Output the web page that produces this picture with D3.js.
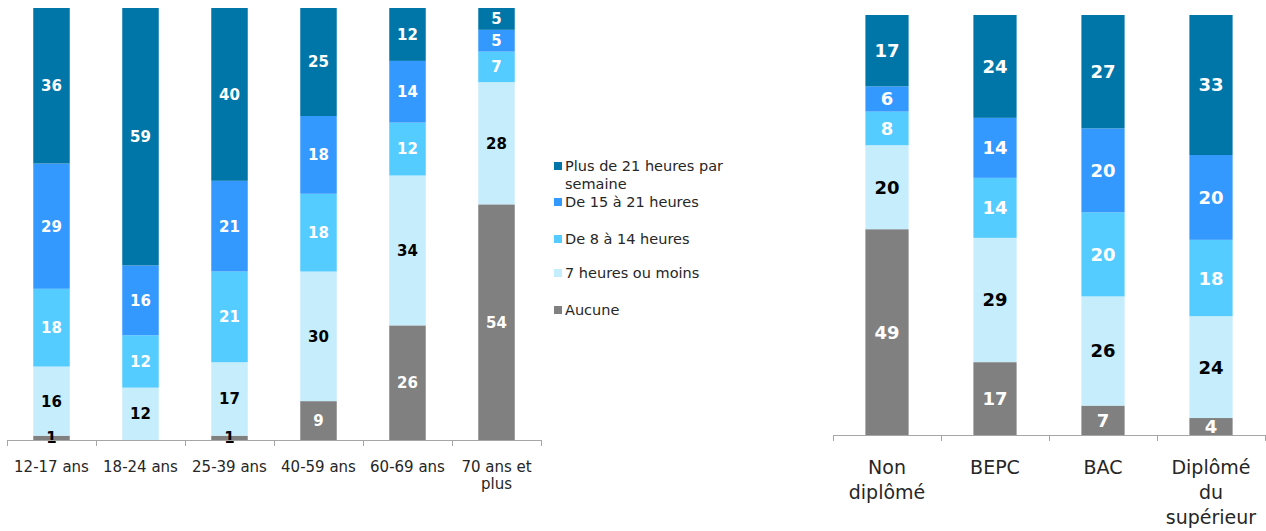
<!DOCTYPE html>
<html><head><meta charset="utf-8">
<script src="https://cdn.jsdelivr.net/npm/d3@7"></script>
<style>body{margin:0;background:#fff}svg{display:block}</style>
</head><body>
<svg id="c" width="1266" height="531"></svg>
<script>
const seriesNames = ["Aucune","7 heures ou moins","De 8 à 14 heures","De 15 à 21 heures","Plus de 21 heures par semaine"];
const seriesKeys = ["aucune","h7","h8_14","h15_21","h21"];
const colors = ["#808080","#C6EDFC","#55CCFF","#3399FF","#0076A8"];
const labelColors = ["#fff","#000","#fff","#fff","#fff"];

const ageCategories = ["12-17 ans","18-24 ans","25-39 ans","40-59 ans","60-69 ans","70 ans et plus"];
const ageAucune = [1,0,1,9,26,54];
const ageH7 = [16,12,17,30,34,28];
const ageH8_14 = [18,12,21,18,12,7];
const ageH15_21 = [29,16,21,18,14,5];
const ageH21 = [36,59,40,25,12,5];

const eduCategories = ["Non diplômé","BEPC","BAC","Diplômé du supérieur"];
const eduAucune = [49,17,7,4];
const eduH7 = [20,29,26,24];
const eduH8_14 = [8,14,20,18];
const eduH15_21 = [6,14,20,20];
const eduH21 = [17,24,27,33];

const ageLabelLines = [["12-17 ans"],["18-24 ans"],["25-39 ans"],["40-59 ans"],["60-69 ans"],["70 ans et","plus"]];
const eduLabelLines = [["Non","diplômé"],["BEPC"],["BAC"],["Diplômé","du","supérieur"]];

const svg = d3.select("#c");
const FONT = "'DejaVu Sans', Verdana, sans-serif";

function buildRows(cats, arrs){
  return cats.map((c,i)=>{
    const r = {cat:c};
    seriesKeys.forEach((k,j)=>r[k]=arrs[j][i]);
    return r;
  });
}

function drawChart(opt){
  const rows = buildRows(opt.cats, opt.arrs);
  const stack = d3.stack().keys(seriesKeys).offset(d3.stackOffsetExpand);
  const layers = stack(rows);
  const x = d3.scaleBand().domain(opt.cats).range([opt.x0,opt.x1]).paddingInner(opt.pad).paddingOuter(opt.pad/2);
  const y = d3.scaleLinear().domain([0,1]).range([opt.y0,opt.y1]);
  const g = svg.append("g");
  layers.forEach((layer,j)=>{
    g.selectAll(null).data(layer).enter().append("rect")
      .attr("x",d=>x(d.data.cat))
      .attr("width",x.bandwidth())
      .attr("y",d=>y(d[1]))
      .attr("height",d=>Math.max(0,y(d[0])-y(d[1])))
      .attr("fill",colors[j]);
  });
  // axis
  const ax = svg.append("g");
  ax.append("line").attr("x1",opt.x0).attr("x2",opt.x1).attr("y1",opt.y0+0.5).attr("y2",opt.y0+0.5).attr("stroke","#A6A6A6");
  const step = x.step();
  for(let i=0;i<=opt.cats.length;i++){
    const tx = Math.round(opt.x0 + i*step)+0.5;
    ax.append("line").attr("x1",tx).attr("x2",tx).attr("y1",opt.y0).attr("y2",opt.y0+6).attr("stroke","#A6A6A6");
  }
  opt.lines.forEach((ls,i)=>{
    const cx = x(opt.cats[i])+x.bandwidth()/2;
    ls.forEach((t,k)=>{
      ax.append("text").attr("x",cx).attr("y",opt.ty + k*opt.lh)
        .attr("text-anchor","middle").attr("font-family",FONT).attr("font-size",opt.afs)
        .attr("fill","#262626").text(t);
    });
  });
  layers.forEach((layer,j)=>{
    g.selectAll(null).data(layer.filter(d=>d.data[seriesKeys[j]]>0)).enter().append("text")
      .attr("x",d=>x(d.data.cat)+x.bandwidth()/2)
      .attr("y",d=>(y(d[0])+y(d[1]))/2)
      .attr("dy","0.36em")
      .attr("text-anchor","middle")
      .attr("font-family",FONT).attr("font-weight","bold").attr("font-size",opt.lfs)
      .attr("fill",d=>{const v=d.data[seriesKeys[j]]; return (j===0 && v<=1)?"#000":labelColors[j];})
      .text(d=>d.data[seriesKeys[j]]);
  });
}

drawChart({cats:ageCategories, arrs:[ageAucune,ageH7,ageH8_14,ageH15_21,ageH21],
  x0:7,x1:541,y0:440,y1:8,pad:0.59,lfs:15,afs:15,ty:472,lh:17,lines:ageLabelLines});
drawChart({cats:eduCategories, arrs:[eduAucune,eduH7,eduH8_14,eduH15_21,eduH21],
  x0:833,x1:1265,y0:435,y1:15,pad:0.6,lfs:18,afs:19,ty:474,lh:25,lines:eduLabelLines});

// legend
const legendItems = [
  {i:4, lines:["Plus de 21 heures par","semaine"], y:166},
  {i:3, lines:["De 15 à 21 heures"], y:202},
  {i:2, lines:["De 8 à 14 heures"], y:239},
  {i:1, lines:["7 heures ou moins"], y:273},
  {i:0, lines:["Aucune"], y:310}
];
const lg = svg.append("g");
legendItems.forEach(it=>{
  lg.append("rect").attr("x",554).attr("y",it.y-4).attr("width",8).attr("height",8).attr("fill",colors[it.i]);
  it.lines.forEach((t,k)=>{
    lg.append("text").attr("x",565).attr("y",it.y+k*18).attr("dy","0.36em")
      .attr("font-family",FONT).attr("font-size",14.5).attr("fill","#262626").text(t);
  });
});
</script>
</body></html>
